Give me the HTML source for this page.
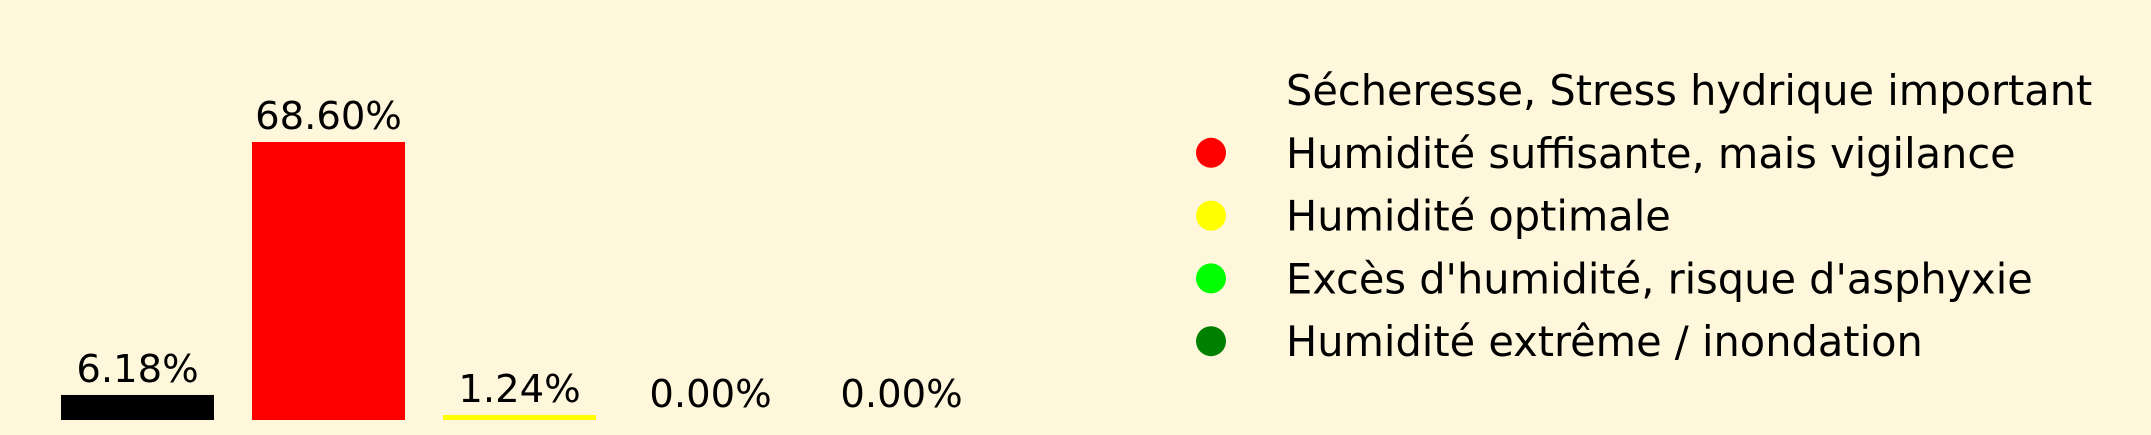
<!DOCTYPE html>
<html><head><meta charset="utf-8"><style>
html,body{margin:0;padding:0;background:#fff7dc;}
svg{display:block;font-family:"DejaVu Sans","Liberation Sans",sans-serif;}
</style></head><body>
<svg id="chart" width="2151" height="435" viewBox="0 0 2151 435" xmlns="http://www.w3.org/2000/svg">
<rect width="2151" height="435" fill="#fff7dc"/>
<g id="bars"></g>
<g id="legend"></g>
</svg>
<script>
const categories = ["Sécheresse, Stress hydrique important","Humidité suffisante, mais vigilance","Humidité optimale","Excès d'humidité, risque d'asphyxie","Humidité extrême / inondation"];
const values = [6.18, 68.60, 1.24, 0.00, 0.00];
const colors = ["#000000","#ff0000","#ffff00","#00ff00","#008000"];
const NS = "http://www.w3.org/2000/svg";
const baseY = 420, pxPerPct = 278/68.6;
const x0 = 61, step = 191, bw = 153;
function yScale(v){ return baseY - v*pxPerPct; }
function xScale(i){ return x0 + i*step; }
const bars = document.getElementById('bars');
values.forEach((v,i)=>{
  const r = document.createElementNS(NS,'rect');
  
  
  r.setAttribute('x',xScale(i)); r.setAttribute('width',bw);
  r.setAttribute('y',yScale(v)); r.setAttribute('height',baseY-yScale(v));
  r.setAttribute('fill',colors[i]);
  bars.appendChild(r);
  const t = document.createElementNS(NS,'text');
  
  
  t.setAttribute('x',xScale(i)+bw/2); t.setAttribute('y',yScale(v)-13);
  t.setAttribute('text-anchor','middle'); t.setAttribute('font-size','38.5');
  t.textContent = v.toFixed(2)+'%';
  bars.appendChild(t);
});
const legend = document.getElementById('legend');
categories.forEach((c,i)=>{
  const cy = 90 + i*62.8;
  const d = document.createElementNS(NS,'circle');
  
  
  d.setAttribute('cx',1211); d.setAttribute('cy',cy); d.setAttribute('r',15);
  d.setAttribute('fill', i===0 ? 'none' : colors[i]);
  legend.appendChild(d);
  const t = document.createElementNS(NS,'text');
  
  
  t.setAttribute('x',1286); t.setAttribute('y',cy+15);
  t.setAttribute('font-size','41.5');
  t.textContent = c;
  legend.appendChild(t);
});
</script>
</body></html>
